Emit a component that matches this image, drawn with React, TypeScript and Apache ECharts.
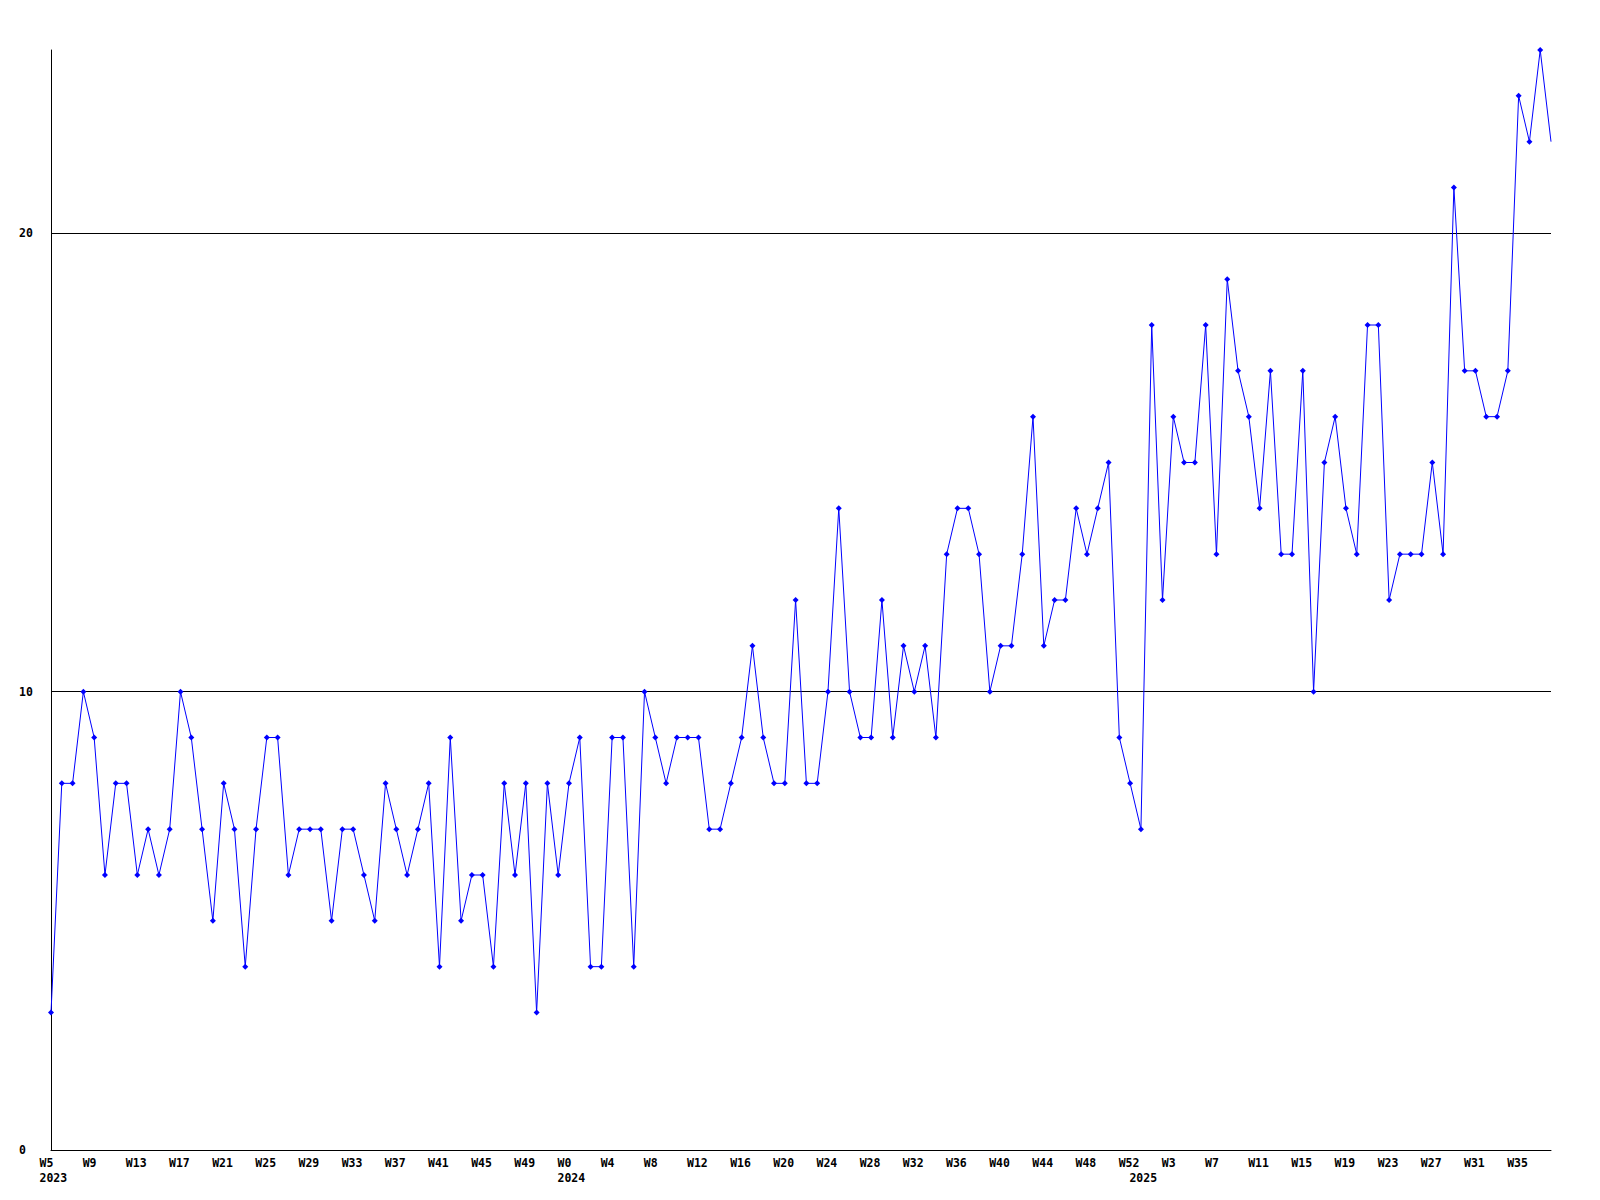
import React, { useEffect, useRef } from "react";
import * as echarts from "echarts";

// Weekly values
const values2023: number[] = [3, 8, 8, 10, 9, 6, 8, 8, 6, 7, 6, 7, 10, 9, 7, 5, 8, 7, 4, 7, 9, 9, 6, 7, 7, 7, 5, 7, 7, 6, 5, 8, 7, 6, 7, 8, 4, 9, 5, 6, 6, 4, 8, 6, 8, 3, 8, 6];
const values2024: number[] = [8, 9, 4, 4, 9, 9, 4, 10, 9, 8, 9, 9, 9, 7, 7, 8, 9, 11, 9, 8, 8, 12, 8, 8, 10, 14, 10, 9, 9, 12, 9, 11, 10, 11, 9, 13, 14, 14, 13, 10, 11, 11, 13, 16, 11, 12, 12, 14, 13, 14, 15, 9, 8];
const values2025: number[] = [7, 18, 12, 16, 15, 15, 18, 13, 19, 17, 16, 14, 17, 13, 13, 17, 10, 15, 16, 14, 13, 18, 18, 12, 13, 13, 13, 15, 13, 21, 17, 17, 16, 16, 17, 23, 22, 24, 22];

// Year blocks: [year, first week number]
const years: string[] = ["2023", "2024", "2025"];
const firstWeeks: number[] = [5, 0, 0];
const yearValues: number[][] = [values2023, values2024, values2025];

const yTicks: number[] = [0, 10, 20];

const weekLabels: string[] = [];
const yearStartIndex: number[] = [];
const allValues: number[] = [];
yearValues.forEach((vals, yi) => {
  yearStartIndex.push(weekLabels.length);
  vals.forEach((v, k) => {
    weekLabels.push("W" + (firstWeeks[yi] + k));
    allValues.push(v);
  });
});

const FONT = "'DejaVu Sans Mono', 'Liberation Mono', monospace";

export default function App() {
  const ref = useRef<HTMLDivElement>(null);
  useEffect(() => {
    if (!ref.current) return;
    const chart = echarts.init(ref.current, undefined, { renderer: "svg" });
    const last = allValues.length - 1;
    const seriesData = allValues.map((v, i) =>
      i === last ? { value: v, symbol: "none" } : v
    );
    const showLabel = (i: number) => i % 4 === 0 || yearStartIndex.includes(i);
    chart.setOption({
      animation: false,
      backgroundColor: "#ffffff",
      grid: [
        { left: 51, right: 49, top: 50, bottom: 50 },
        { left: 39.5, right: 60.5, top: 50, bottom: 50 },
      ],
      xAxis: [
        {
          type: "category",
          gridIndex: 0,
          data: weekLabels,
          boundaryGap: false,
          axisLine: { show: true, lineStyle: { color: "#000", width: 1 } },
          axisTick: { show: false },
          axisLabel: { show: false },
          splitLine: { show: false },
        },
        {
          type: "category",
          gridIndex: 1,
          data: weekLabels,
          boundaryGap: false,
          axisLine: { show: false },
          axisTick: { show: false },
          splitLine: { show: false },
          axisLabel: {
            show: true,
            interval: (i: number) => showLabel(i),
            align: "left",
            verticalAlign: "top",
            margin: 5,
            lineHeight: 15,
            fontFamily: FONT,
            fontWeight: "bold",
            fontSize: 11.5,
            color: "#000",
            formatter: (val: string, i: number) => {
              const yi = yearStartIndex.indexOf(i);
              const week = i % 4 === 0 ? val : "";
              return yi >= 0 ? week + "\n" + years[yi] : week;
            },
          },
        },
      ],
      yAxis: [
        {
          type: "value",
          gridIndex: 0,
          min: yTicks[0],
          max: 24,
          interval: yTicks[1] - yTicks[0],
          axisLine: { show: true, lineStyle: { color: "#000", width: 1 } },
          axisTick: { show: false },
          axisLabel: {
            show: true,
            align: "left",
            margin: 32,
            showMaxLabel: false,
            fontFamily: FONT,
            fontWeight: "bold",
            fontSize: 11.5,
            color: "#000",
          },
          splitLine: {
            show: true,
            showMinLine: false,
            showMaxLine: false,
            lineStyle: { color: "#000", width: 1 },
          },
        },
        { type: "value", gridIndex: 1, show: false, min: 0, max: 24 },
      ],
      series: [
        {
          type: "line",
          xAxisIndex: 0,
          yAxisIndex: 0,
          data: seriesData,
          smooth: false,
          showAllSymbol: true,
          symbol: "diamond",
          symbolSize: 6,
          lineStyle: { color: "#0000ff", width: 1 },
          itemStyle: { color: "#0000ff" },
          emphasis: { disabled: true },
          z: 3,
        },
      ],
    });
    return () => chart.dispose();
  }, []);
  return (
    <div
      ref={ref}
      style={{ position: "absolute", left: 0, top: 0, width: 1600, height: 1200, background: "#fff" }}
    />
  );
}
